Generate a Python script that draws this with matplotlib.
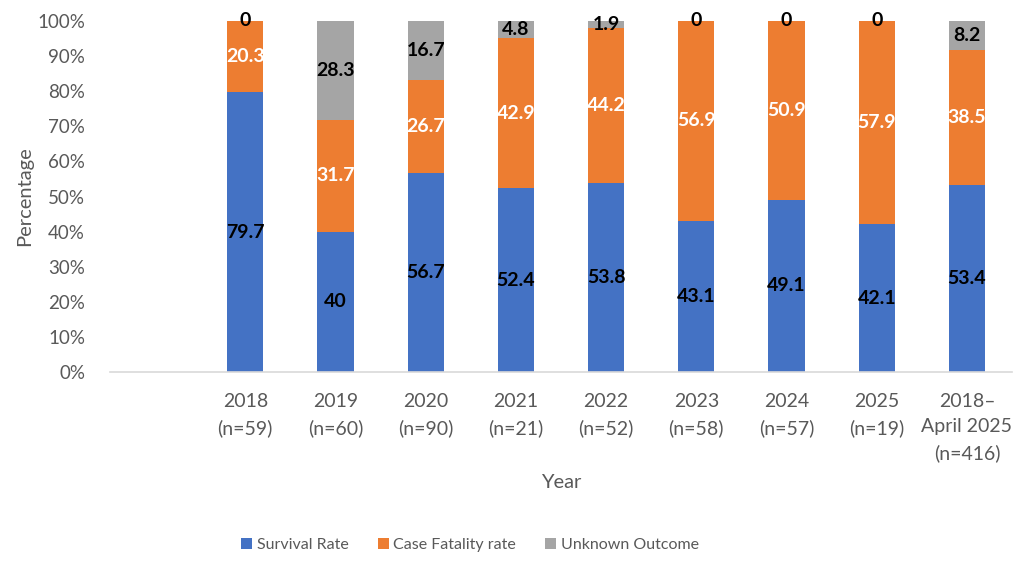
import matplotlib
matplotlib.use("Agg")
import matplotlib.pyplot as plt
import numpy as np
from matplotlib.ticker import FuncFormatter

plt.rcParams['font.family'] = ['Lato', 'DejaVu Sans']

categories = ["2018\n(n=59)", "2019\n(n=60)", "2020\n(n=90)", "2021\n(n=21)",
              "2022\n(n=52)", "2023\n(n=58)", "2024\n(n=57)", "2025\n(n=19)",
              "2018–\nApril 2025\n(n=416)"]
survival = [79.7, 40, 56.7, 52.4, 53.8, 43.1, 49.1, 42.1, 53.4]
fatality = [20.3, 31.7, 26.7, 42.9, 44.2, 56.9, 50.9, 57.9, 38.5]
unknown = [0, 28.3, 16.7, 4.8, 1.9, 0, 0, 0, 8.2]

series = [("Survival Rate", survival, "#4472C4", "black"),
          ("Case Fatality rate", fatality, "#ED7D31", "white"),
          ("Unknown Outcome", unknown, "#A5A5A5", "black")]

fig = plt.figure(figsize=(10.24, 5.72), dpi=100)
ax = fig.add_axes([110/1024, 1-372/572, (1012-110)/1024, (372-21)/572])

x = np.arange(len(categories))
totals = np.array(survival) + np.array(fatality) + np.array(unknown)
bottom = np.zeros(len(categories))
handles = []
for name, vals, color, tcolor in series:
    v = np.array(vals, dtype=float)
    h = v / totals * 100
    b = ax.bar(x, h, 0.4, bottom=bottom, color=color, label=name, zorder=2)
    handles.append(b)
    for xi, bi, hi, vi in zip(x, bottom, h, v):
        ax.text(xi, bi + hi/2, f"{vi:g}", ha="center", va="center",
                fontsize=14, fontweight="bold", color=tcolor, zorder=3)
    bottom += h

ax.set_xlim(-1.5, 8.5)
ax.set_ylim(0, 100)
ax.set_yticks(np.arange(0, 101, 10))
ax.yaxis.set_major_formatter(FuncFormatter(lambda v, p: f"{v:.0f}%"))
ax.set_xticks(x)
ax.set_xticklabels(categories, linespacing=1.6)
ax.tick_params(axis="both", length=0, colors="#595959")
ax.tick_params(axis="x", pad=15, labelsize=14)
ax.tick_params(axis="y", pad=18, labelsize=13.5)
for s in ["top", "right", "left"]:
    ax.spines[s].set_visible(False)
ax.spines["bottom"].set_color("#D9D9D9")
ax.spines["bottom"].set_linewidth(1.2)

ax.set_ylabel("Percentage", fontsize=14.5, color="#595959")
ax.yaxis.set_label_coords(-0.085, 0.5)
fig.text(561/1024, 1-483/572, "Year", ha="center", va="center", fontsize=14.5, color="#595959")

fig.legend(handles=handles, loc="center", bbox_to_anchor=(470/1024, 1-545/572),
           ncol=3, frameon=False, fontsize=11.5, handlelength=0.7, handleheight=0.7,
           handletextpad=0.3, columnspacing=1.8, labelcolor="#595959")

fig.savefig("out.png", dpi=100)
